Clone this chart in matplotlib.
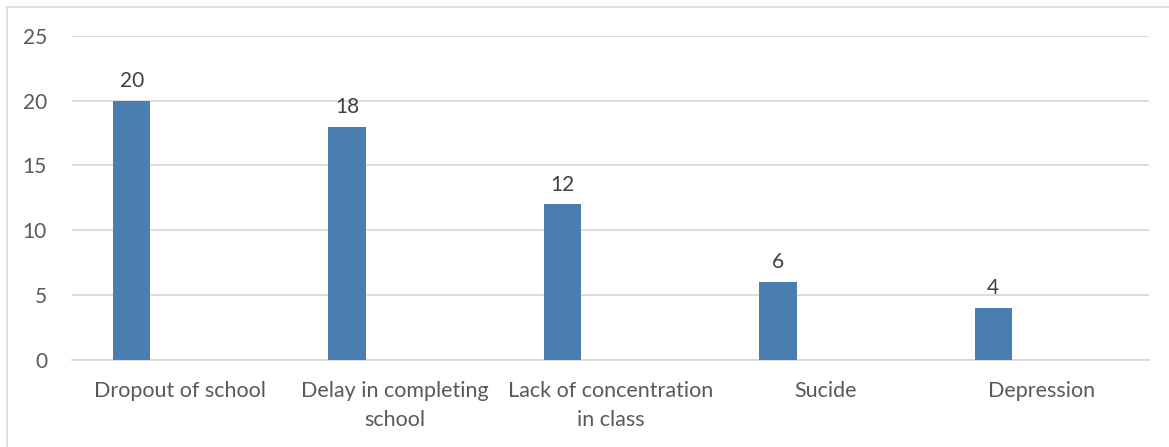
import matplotlib
matplotlib.use("Agg")
import matplotlib.pyplot as plt
from matplotlib.lines import Line2D
import numpy as np

categories = ["Dropout of school", "Delay in completing\nschool",
              "Lack of concentration\nin class", "Sucide", "Depression"]
values = [20, 18, 12, 6, 4]
y_ticks = [0, 5, 10, 15, 20, 25]

BAR_COLOR = "#4A7EB0"
TEXT_COLOR = "#595959"
GRID_COLOR = "#D9D9D9"

plt.rcParams["font.family"] = ["Lato", "DejaVu Sans"]

fig = plt.figure(figsize=(11.69, 4.47), dpi=100)
ax = fig.add_axes([0.0616, 0.1946, 0.9213, 0.7254])

x = np.arange(len(categories))
bar_offset = -0.223
bar_width = 0.174
bars = ax.bar(x + bar_offset, values, width=bar_width, color=BAR_COLOR, zorder=3)

for xi, v in zip(x, values):
    ax.annotate(f"{v}", (xi + bar_offset, v), xytext=(0, 7), textcoords="offset points",
                ha="center", va="bottom", fontsize=15, color="#404040")

ax.set_xlim(-0.5, len(categories) - 0.5)
ax.set_ylim(0, 25)
ax.set_yticks(y_ticks)
ax.set_xticks(x)
ax.set_xticklabels(categories, fontsize=15.5, color=TEXT_COLOR, linespacing=1.55)
ax.tick_params(axis="y", labelsize=15, labelcolor=TEXT_COLOR, length=0, pad=18)
ax.tick_params(axis="x", length=0, pad=15)

ax.grid(axis="y", color=GRID_COLOR, linewidth=1.3, zorder=0)
for side in ["top", "right", "left"]:
    ax.spines[side].set_visible(False)
ax.spines["bottom"].set_color(GRID_COLOR)
ax.spines["bottom"].set_linewidth(1.3)

# Chart-area frame (left and top edges)
fig.add_artist(Line2D([7 / 1169, 7 / 1169], [0, 1 - 7 / 447], transform=fig.transFigure,
                      color=GRID_COLOR, linewidth=1.2))
fig.add_artist(Line2D([7 / 1169, 1], [1 - 7 / 447, 1 - 7 / 447], transform=fig.transFigure,
                      color=GRID_COLOR, linewidth=1.2))

fig.savefig("out.png", dpi=100, facecolor="white")
